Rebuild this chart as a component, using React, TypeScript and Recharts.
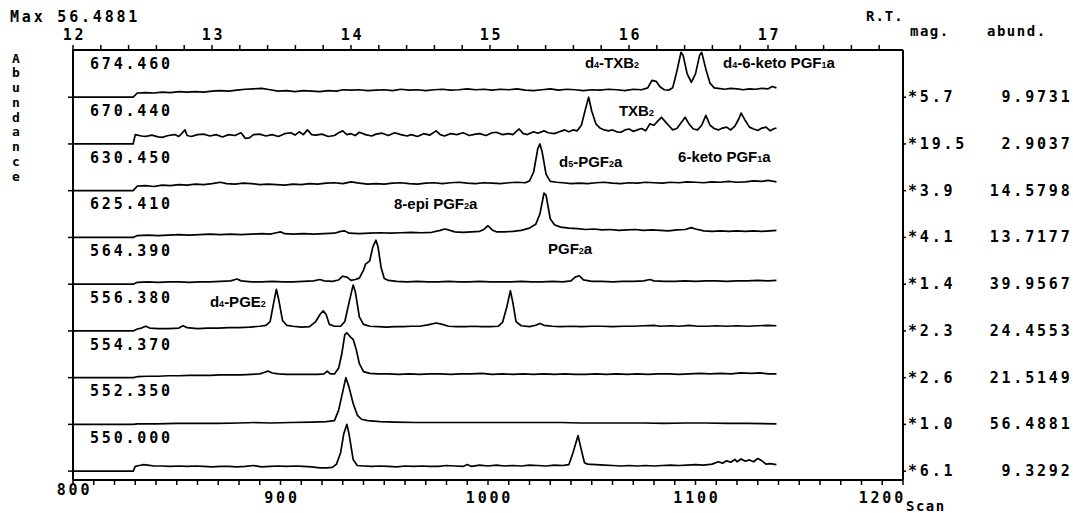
import React from 'react'
import { LineChart, Line, XAxis, YAxis, ReferenceDot } from 'recharts'

type Pt = [number, number]

// ion channels, top to bottom
const ions = ['674.460', '670.440', '630.450', '625.410', '564.390', '556.380', '554.370', '552.350', '550.000']
const mags = ['*5.7', '*19.5', '*3.9', '*4.1', '*1.4', '*2.3', '*2.6', '*1.0', '*6.1']
const abunds = ['9.9731', '2.9037', '14.5798', '13.7177', '39.9567', '24.4553', '21.5149', '56.4881', '9.3292']

const scanLabels = [800, 900, 1000, 1100, 1200]
const rtLabels = [12, 13, 14, 15, 16, 17]

// [scan, relative intensity] per channel
const mz674: Pt[] = [[800,0],[829,0],[831,0.09],[835,0.1],[839,0.09],[843,0.11],[847,0.1],[851,0.12],[855,0.11],[859,0.12],[863,0.11],[867,0.13],[871,0.14],[875,0.13],[879,0.15],[883,0.17],[887,0.18],[891,0.19],[895,0.16],[899,0.13],[903,0.14],[907,0.12],[911,0.14],[915,0.13],[919,0.12],[923,0.14],[927,0.13],[930,0.16],[934,0.15],[938,0.16],[942,0.14],[946,0.15],[950,0.16],[954,0.14],[958,0.17],[962,0.15],[966,0.16],[970,0.14],[974,0.16],[978,0.17],[982,0.15],[986,0.16],[990,0.18],[994,0.16],[998,0.17],[1002,0.15],[1006,0.17],[1010,0.16],[1014,0.18],[1018,0.15],[1022,0.14],[1026,0.16],[1030,0.18],[1034,0.15],[1038,0.17],[1042,0.16],[1046,0.14],[1050,0.16],[1054,0.15],[1058,0.17],[1062,0.16],[1066,0.14],[1070,0.17],[1074,0.16],[1077,0.2],[1079,0.36],[1081,0.34],[1083,0.22],[1085,0.16],[1087,0.15],[1089,0.2],[1091,0.55],[1093,0.96],[1094,0.9],[1096,0.5],[1098,0.32],[1100,0.5],[1102,0.9],[1103,0.96],[1105,0.6],[1107,0.3],[1109,0.2],[1111,0.19],[1114,0.17],[1117,0.19],[1120,0.18],[1123,0.16],[1126,0.18],[1129,0.17],[1132,0.19],[1135,0.18],[1137,0.23],[1139,0.2]]

const mz670: Pt[] = [[800,0],[829,0],[830,0.2],[833,0.17],[835,0.16],[838,0.19],[841,0.15],[843,0.14],[846,0.18],[849,0.2],[851,0.16],[854,0.3],[855,0.18],[857,0.16],[860,0.2],[863,0.21],[866,0.17],[869,0.2],[872,0.15],[875,0.2],[878,0.18],[881,0.24],[883,0.12],[885,0.13],[887,0.2],[890,0.21],[893,0.17],[896,0.2],[899,0.16],[902,0.22],[905,0.24],[907,0.19],[909,0.26],[911,0.2],[913,0.3],[915,0.2],[917,0.19],[920,0.21],[923,0.16],[926,0.18],[928,0.24],[930,0.28],[932,0.2],[934,0.22],[936,0.18],[938,0.25],[941,0.2],[944,0.17],[946,0.21],[949,0.23],[952,0.18],[955,0.24],[958,0.2],[961,0.17],[963,0.2],[966,0.16],[969,0.22],[972,0.19],[975,0.28],[977,0.2],[979,0.17],[982,0.22],[985,0.2],[988,0.24],[991,0.18],[994,0.21],[996,0.22],[999,0.18],[1002,0.24],[1004,0.25],[1007,0.2],[1010,0.22],[1012,0.2],[1015,0.32],[1017,0.22],[1019,0.2],[1022,0.26],[1024,0.23],[1027,0.28],[1029,0.24],[1032,0.22],[1035,0.27],[1037,0.3],[1039,0.26],[1041,0.3],[1043,0.28],[1045,0.4],[1047,0.75],[1048.5,1.0],[1050,0.7],[1052,0.43],[1054,0.34],[1056,0.3],[1058,0.28],[1060,0.3],[1062,0.26],[1064,0.25],[1066,0.3],[1068,0.32],[1070,0.27],[1072,0.3],[1074,0.33],[1076,0.28],[1078,0.43],[1080,0.4],[1082,0.5],[1083.6,0.57],[1085,0.5],[1087,0.4],[1089,0.3],[1091,0.33],[1093,0.45],[1095,0.57],[1097,0.42],[1099,0.32],[1101,0.3],[1103,0.4],[1105,0.61],[1107,0.4],[1109,0.33],[1111,0.3],[1113,0.34],[1115,0.36],[1117,0.3],[1119,0.38],[1121,0.55],[1122,0.66],[1124,0.5],[1126,0.36],[1128,0.32],[1130,0.29],[1132,0.34],[1134,0.36],[1136,0.28],[1138,0.33],[1139,0.34]]

const mz630: Pt[] = [[800,0],[829,0],[831,0.1],[835,0.11],[839,0.09],[843,0.12],[847,0.11],[851,0.13],[855,0.12],[859,0.14],[863,0.13],[867,0.15],[871,0.18],[874,0.15],[878,0.14],[882,0.16],[886,0.15],[890,0.13],[894,0.14],[898,0.13],[902,0.12],[906,0.14],[910,0.13],[914,0.15],[918,0.14],[922,0.16],[926,0.17],[930,0.15],[934,0.19],[938,0.16],[942,0.14],[946,0.15],[950,0.14],[954,0.16],[958,0.17],[962,0.15],[966,0.14],[970,0.16],[974,0.17],[978,0.15],[982,0.17],[986,0.18],[990,0.16],[994,0.15],[998,0.17],[1002,0.16],[1006,0.15],[1010,0.17],[1014,0.18],[1018,0.17],[1020,0.21],[1022,0.4],[1024,0.9],[1025,1.0],[1026,0.85],[1028,0.35],[1030,0.2],[1033,0.18],[1036,0.17],[1040,0.15],[1044,0.16],[1048,0.15],[1052,0.17],[1056,0.18],[1060,0.16],[1064,0.15],[1068,0.17],[1072,0.16],[1076,0.18],[1080,0.17],[1084,0.16],[1088,0.18],[1092,0.17],[1096,0.19],[1100,0.18],[1104,0.17],[1108,0.19],[1112,0.18],[1116,0.2],[1120,0.18],[1124,0.19],[1128,0.21],[1132,0.2],[1135,0.22],[1139,0.19]]

const mz625: Pt[] = [[800,0],[829,0],[831,0.04],[836,0.05],[841,0.04],[846,0.05],[851,0.06],[856,0.05],[861,0.06],[866,0.07],[871,0.06],[876,0.07],[881,0.06],[886,0.07],[891,0.08],[895,0.07],[898,0.1],[900,0.12],[902,0.08],[906,0.07],[911,0.08],[916,0.07],[921,0.08],[926,0.09],[929,0.13],[931,0.14],[933,0.09],[938,0.08],[943,0.09],[948,0.1],[953,0.09],[958,0.1],[963,0.11],[968,0.1],[973,0.11],[977,0.15],[979,0.18],[981,0.16],[984,0.12],[988,0.11],[992,0.12],[996,0.13],[998,0.17],[1000,0.25],[1002,0.16],[1004,0.12],[1008,0.12],[1012,0.13],[1016,0.15],[1020,0.2],[1023,0.28],[1025,0.5],[1027,0.95],[1028,0.9],[1030,0.4],[1032,0.27],[1035,0.22],[1039,0.2],[1043,0.19],[1047,0.17],[1051,0.18],[1055,0.16],[1059,0.17],[1063,0.15],[1067,0.16],[1071,0.17],[1075,0.15],[1079,0.16],[1083,0.15],[1087,0.14],[1091,0.16],[1095,0.17],[1098,0.21],[1100,0.18],[1104,0.14],[1108,0.13],[1112,0.14],[1116,0.13],[1120,0.14],[1124,0.13],[1128,0.14],[1132,0.13],[1136,0.14],[1139,0.15]]

const mz564: Pt[] = [[800,0],[829,0],[831,0.04],[836,0.05],[841,0.04],[846,0.05],[851,0.05],[856,0.04],[861,0.05],[866,0.05],[871,0.06],[876,0.07],[879,0.11],[881,0.07],[886,0.05],[891,0.05],[896,0.06],[901,0.05],[906,0.05],[911,0.06],[916,0.07],[919,0.1],[921,0.07],[925,0.06],[928,0.09],[930,0.17],[932,0.15],[934,0.08],[936,0.1],[938,0.13],[940,0.3],[941,0.43],[943,0.5],[944.5,0.8],[946,0.94],[947,0.8],[948.5,0.35],[950,0.12],[952,0.08],[956,0.06],[961,0.05],[966,0.06],[971,0.05],[976,0.05],[981,0.06],[986,0.05],[991,0.05],[996,0.06],[1001,0.05],[1006,0.05],[1011,0.05],[1016,0.06],[1021,0.05],[1026,0.05],[1031,0.06],[1036,0.05],[1040,0.07],[1042,0.15],[1044,0.18],[1046,0.09],[1050,0.06],[1055,0.06],[1060,0.05],[1065,0.06],[1070,0.06],[1075,0.07],[1078,0.1],[1080,0.07],[1085,0.06],[1090,0.06],[1095,0.07],[1100,0.06],[1105,0.07],[1110,0.07],[1115,0.06],[1120,0.07],[1125,0.07],[1130,0.08],[1135,0.07],[1139,0.08]]

const mz556: Pt[] = [[800,0],[829,0],[831,0.04],[833,0.06],[835,0.1],[837,0.06],[841,0.05],[846,0.05],[851,0.06],[853,0.11],[855,0.07],[860,0.05],[865,0.06],[870,0.06],[875,0.07],[880,0.07],[885,0.08],[890,0.1],[893,0.12],[895,0.2],[896.5,0.55],[898,0.89],[899,0.7],[901,0.22],[903,0.12],[906,0.1],[910,0.08],[914,0.09],[917,0.2],[919,0.35],[920.6,0.43],[922,0.35],[923.5,0.14],[926,0.1],[929,0.1],[931,0.2],[933,0.6],[935,0.98],[936,0.85],[938,0.3],[940,0.14],[943,0.1],[947,0.09],[951,0.08],[955,0.09],[959,0.09],[963,0.1],[967,0.1],[971,0.13],[975,0.17],[978,0.14],[981,0.1],[985,0.09],[989,0.09],[993,0.1],[997,0.09],[1001,0.09],[1005,0.1],[1007,0.18],[1009,0.5],[1010.8,0.86],[1012,0.6],[1013.5,0.2],[1016,0.11],[1020,0.09],[1023,0.12],[1025,0.16],[1027,0.12],[1031,0.1],[1035,0.09],[1040,0.1],[1045,0.09],[1050,0.1],[1055,0.1],[1060,0.09],[1065,0.1],[1070,0.1],[1075,0.11],[1080,0.12],[1083,0.1],[1088,0.11],[1092,0.1],[1097,0.12],[1101,0.1],[1106,0.1],[1110,0.11],[1115,0.1],[1120,0.11],[1125,0.1],[1130,0.11],[1135,0.12],[1139,0.11]]

const mz554: Pt[] = [[800,0],[829,0],[831,0.02],[836,0.03],[841,0.03],[846,0.04],[851,0.04],[856,0.05],[861,0.05],[866,0.05],[871,0.06],[876,0.06],[881,0.06],[886,0.07],[890,0.08],[892,0.11],[894,0.14],[896,0.1],[899,0.08],[903,0.07],[908,0.07],[913,0.07],[918,0.07],[921,0.08],[922.5,0.14],[924,0.08],[926,0.08],[928,0.2],[929.5,0.5],[931,0.92],[932,0.96],[933.5,0.88],[935,0.82],[936.5,0.6],[938,0.3],[940,0.13],[943,0.09],[947,0.08],[952,0.08],[957,0.07],[962,0.08],[967,0.07],[972,0.08],[977,0.08],[982,0.07],[987,0.08],[992,0.08],[997,0.09],[1002,0.07],[1007,0.08],[1012,0.07],[1017,0.08],[1022,0.07],[1027,0.08],[1032,0.07],[1037,0.08],[1042,0.07],[1047,0.07],[1052,0.08],[1057,0.07],[1062,0.08],[1067,0.07],[1072,0.08],[1077,0.07],[1082,0.08],[1087,0.08],[1092,0.07],[1097,0.08],[1102,0.09],[1107,0.08],[1112,0.09],[1117,0.08],[1122,0.1],[1127,0.09],[1131,0.1],[1135,0.08],[1139,0.08]]

const mz552: Pt[] = [[800,0],[829,0],[831,0.01],[840,0.01],[850,0.02],[860,0.02],[870,0.02],[880,0.03],[888,0.04],[895,0.03],[905,0.04],[915,0.05],[922,0.06],[926,0.08],[928,0.3],[930,0.7],[931.5,1.0],[933,0.8],[935,0.45],[937,0.2],[939,0.11],[942,0.08],[948,0.06],[955,0.05],[965,0.04],[975,0.04],[985,0.04],[995,0.04],[1005,0.04],[1015,0.04],[1025,0.04],[1035,0.04],[1045,0.03],[1055,0.03],[1065,0.03],[1075,0.03],[1085,0.02],[1095,0.03],[1105,0.03],[1115,0.02],[1125,0.02],[1139,0.01]]

const mz550: Pt[] = [[800,0],[829,0],[830,0.1],[832,0.12],[834,0.14],[836,0.13],[839,0.11],[843,0.11],[847,0.1],[851,0.11],[855,0.1],[859,0.11],[863,0.1],[867,0.09],[871,0.1],[875,0.1],[879,0.09],[883,0.1],[887,0.12],[891,0.09],[895,0.1],[899,0.11],[903,0.1],[907,0.11],[911,0.1],[915,0.09],[919,0.07],[922,0.07],[925,0.08],[927,0.15],[929,0.4],[930.5,0.8],[932,1.0],[933,0.8],[935,0.25],[937,0.12],[940,0.11],[944,0.1],[948,0.11],[952,0.1],[956,0.09],[960,0.11],[964,0.1],[968,0.11],[972,0.1],[976,0.1],[980,0.12],[984,0.11],[988,0.1],[990,0.14],[992,0.1],[996,0.13],[1000,0.11],[1004,0.13],[1008,0.11],[1012,0.12],[1016,0.11],[1020,0.13],[1024,0.12],[1028,0.11],[1032,0.13],[1036,0.12],[1039,0.14],[1041,0.4],[1043.4,0.76],[1045,0.45],[1046.5,0.18],[1048,0.15],[1052,0.14],[1056,0.13],[1060,0.12],[1064,0.11],[1068,0.12],[1072,0.11],[1076,0.12],[1080,0.11],[1084,0.12],[1088,0.13],[1092,0.12],[1096,0.13],[1100,0.14],[1104,0.13],[1108,0.15],[1111,0.2],[1113,0.17],[1115,0.22],[1117,0.19],[1119,0.25],[1120,0.2],[1122,0.26],[1124,0.21],[1126,0.24],[1128,0.2],[1130,0.27],[1132,0.22],[1134,0.15],[1136,0.16],[1139,0.14]]

const traces = [mz674, mz670, mz630, mz625, mz564, mz556, mz554, mz552, mz550]

// peak names: text pieces, second item marks a subscript
type Piece = [string, boolean?]
const peakNames: { row: number; scan: number; dy: number; text: Piece[] }[] = [
  { row: 0, scan: 1046.7, dy: 12, text: [['d'], ['4', true], ['-TXB'], ['2', true]] },
  { row: 0, scan: 1113.3, dy: 12, text: [['d'], ['4', true], ['-6-keto PGF'], ['1', true], ['a']] },
  { row: 1, scan: 1063.1, dy: 13, text: [['TXB'], ['2', true]] },
  { row: 2, scan: 1091.6, dy: 12, text: [['6-keto PGF'], ['1', true], ['a']] },
  { row: 2, scan: 1034.2, dy: 17, text: [['d'], ['5', true], ['-PGF'], ['2', true], ['a']] },
  { row: 3, scan: 954.7, dy: 12, text: [['8-epi PGF'], ['2', true], ['a']] },
  { row: 4, scan: 1028.9, dy: 11, text: [['PGF'], ['2', true], ['a']] },
  { row: 5, scan: 866, dy: 17, text: [['d'], ['4', true], ['-PGE'], ['2', true]] },
]

// layout
const W = 1073
const H = 513
const LEFT = 73
const RIGHT = 903
const TOP = 50
const BOTTOM = 480
const Y_MAX = 9.2
const ROW_PX = (BOTTOM - TOP) / Y_MAX
const BASE0 = 0.19
const RT_MAX = 12 + (RIGHT - LEFT) / 139

const MONO = "'DejaVu Sans Mono', 'Liberation Mono', monospace"
const SANS = "'Liberation Sans Narrow', 'Liberation Sans', Arial, sans-serif"
const INK = '#000'

const mono = { fontFamily: MONO, fontSize: 15, fontWeight: 700, letterSpacing: 2.8, fill: INK } as const

const rowBase = (i: number) => BASE0 + (ions.length - 1 - i)
const rowOf = (v: number) => ions.length - 1 - Math.round(v - BASE0)

const series = traces.map((pts, i) => pts.map(([scan, v]) => ({ scan, y: rowBase(i) + v })))
const baseTicks = ions.map((_, i) => rowBase(i)).reverse()
const rtData = rtLabels.map((rt) => ({ rt }))

const scanTicks: number[] = []
for (let s = 800; s <= 1200; s += 10) scanTicks.push(s)
const rtTicks: number[] = []
for (let k = 0; k * 0.2 + 12 <= RT_MAX + 1e-6; k++) rtTicks.push(+(12 + k * 0.2).toFixed(1))

const ScanTick = (p: any) => {
  const v = p.payload.value
  if (!scanLabels.includes(v)) return <g />
  const anchor = v === 1200 ? 'end' : 'middle'
  const x = v === 1200 ? p.x + 3 : p.x + 1.5
  return (
    <text x={x} y={v === 800 ? BOTTOM + 10 : BOTTOM + 18} textAnchor={anchor} dominantBaseline="central" {...mono}>
      {v}
    </text>
  )
}

const RtTick = (p: any) => {
  const v = p.payload.value
  if (!rtLabels.includes(v)) return <g />
  return (
    <text x={p.x + 1.5} y={TOP - 15} textAnchor="middle" dominantBaseline="central" {...mono}>
      {v}
    </text>
  )
}

const IonTick = (p: any) => {
  const i = rowOf(p.payload.value)
  return (
    <text x={LEFT + 17} y={p.y - 33} dominantBaseline="central" {...mono}>
      {ions[i]}
    </text>
  )
}

const MagTick = (p: any) => {
  const i = rowOf(p.payload.value)
  return (
    <g>
      <text x={RIGHT + 5} y={p.y} dominantBaseline="central" {...mono}>{mags[i]}</text>
      <text x={W - 0.5} y={p.y} textAnchor="end" dominantBaseline="central" {...mono}>{abunds[i]}</text>
    </g>
  )
}

const PeakName = ({ viewBox, text }: any) => {
  let prevSub = false
  return (
    <text x={viewBox.x} y={viewBox.y} dominantBaseline="central" fontFamily={SANS} fontSize={15} fontWeight={700} fill={INK}>
      {text.map(([t, sub]: Piece, k: number) => {
        const dy = sub ? 3 : prevSub ? -3 : 0
        prevSub = !!sub
        return (
          <tspan key={k} dy={dy} fontSize={sub ? 9 : 15}>
            {t}
          </tspan>
        )
      })}
    </text>
  )
}

const axisLine = { stroke: INK, strokeWidth: 2 }
const tickLine = { stroke: INK, strokeWidth: 1.5 }

export default function App() {
  return (
    <div style={{ position: 'absolute', left: 0, top: 0, width: W, height: H, background: '#fff' }}>
      <LineChart width={W} height={H} data={rtData} margin={{ top: 0, right: 0, bottom: 0, left: 0 }}>
        <XAxis
          xAxisId="scan"
          dataKey="scan"
          type="number"
          domain={[800, 1200]}
          allowDataOverflow
          ticks={scanTicks}
          interval={0}
          height={H - BOTTOM}
          tickSize={5}
          axisLine={axisLine}
          tickLine={tickLine}
          tick={ScanTick}
        />
        <XAxis
          xAxisId="rt"
          dataKey="rt"
          orientation="top"
          type="number"
          domain={[12, RT_MAX]}
          allowDataOverflow
          ticks={rtTicks}
          interval={0}
          height={TOP}
          tickSize={5}
          axisLine={axisLine}
          tickLine={tickLine}
          tick={RtTick}
        />
        <YAxis
          yAxisId="left"
          type="number"
          domain={[0, Y_MAX]}
          allowDataOverflow
          ticks={baseTicks}
          interval={0}
          width={LEFT}
          tickSize={5}
          axisLine={axisLine}
          tickLine={tickLine}
          tick={IonTick}
        />
        <YAxis
          yAxisId="right"
          orientation="right"
          type="number"
          domain={[0, Y_MAX]}
          allowDataOverflow
          ticks={baseTicks}
          interval={0}
          width={W - RIGHT}
          tickSize={3}
          axisLine={axisLine}
          tickLine={tickLine}
          tick={MagTick}
        />
        {series.map((d, i) => (
          <Line
            key={ions[i]}
            data={d}
            xAxisId="scan"
            yAxisId="left"
            dataKey="y"
            type="linear"
            stroke={INK}
            strokeWidth={1.7}
            strokeLinejoin="round"
            dot={false}
            isAnimationActive={false}
          />
        ))}
        {peakNames.map((p, k) => (
          <ReferenceDot
            key={k}
            xAxisId="scan"
            yAxisId="left"
            x={p.scan}
            y={rowBase(p.row) + 1 - p.dy / ROW_PX}
            r={0}
            fill="none"
            stroke="none"
            label={(lp: any) => <PeakName viewBox={lp.viewBox} text={p.text} />}
          />
        ))}
      </LineChart>
      <svg width={W} height={H} style={{ position: 'absolute', left: 0, top: 0, pointerEvents: 'none' }}>
        <text x={10} y={17} dominantBaseline="central" {...mono}>Max 56.4881</text>
        <text x={866} y={16} dominantBaseline="central" {...mono} fontSize={14} letterSpacing={1}>R.T.</text>
        <text x={910} y={31} dominantBaseline="central" {...mono} fontSize={14} letterSpacing={1.5}>mag.</text>
        <text x={987} y={31} dominantBaseline="central" {...mono} fontSize={14} letterSpacing={1.5}>abund.</text>
        <text x={RIGHT + 3} y={506} dominantBaseline="central" {...mono} fontSize={14} letterSpacing={1.5}>Scan</text>
        {'Abundance'.split('').map((c, k) => (
          <text key={k} x={16} y={58 + k * 14.75} textAnchor="middle" dominantBaseline="central" {...mono} fontSize={13} letterSpacing={0}>
            {c}
          </text>
        ))}
      </svg>
    </div>
  )
}
